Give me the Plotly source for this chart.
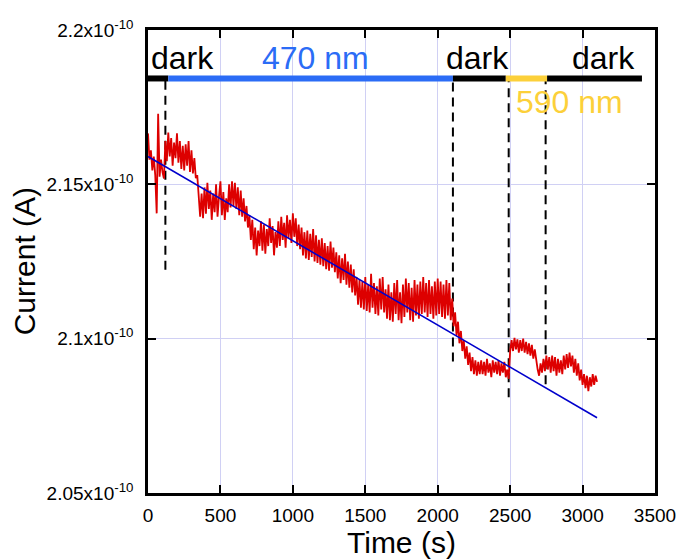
import plotly.graph_objects as go

# ---------------- data ----------------
# time axis, seconds (sampled every 10 s)
time_s = list(range(0, 3110, 10))

# measured current, in units of 1e-10 A
current_e10 = [
    2.1665, 2.1580, 2.1610, 2.1545, 2.1590, 2.1530, 2.1406, 2.1729, 2.1525, 2.1580,
    2.1540, 2.1519, 2.1640, 2.1575, 2.1668, 2.1590, 2.1650, 2.1560, 2.1635, 2.1585,
    2.1665, 2.1570, 2.1640, 2.1550, 2.1625, 2.1545, 2.1630, 2.1560, 2.1640, 2.1540,
    2.1610, 2.1535, 2.1585, 2.1520, 2.1530, 2.1460, 2.1395, 2.1470, 2.1390, 2.1490,
    2.1405, 2.1505, 2.1420, 2.1480, 2.1385, 2.1470, 2.1410, 2.1500, 2.1395, 2.1460,
    2.1510, 2.1400, 2.1475, 2.1385, 2.1455, 2.1410, 2.1500, 2.1425, 2.1510, 2.1430,
    2.1505, 2.1420, 2.1490, 2.1400, 2.1480, 2.1395, 2.1455, 2.1380, 2.1430, 2.1360,
    2.1400, 2.1320, 2.1385, 2.1290, 2.1360, 2.1270, 2.1350, 2.1300, 2.1380, 2.1285,
    2.1370, 2.1275, 2.1355, 2.1300, 2.1390, 2.1310, 2.1365, 2.1270, 2.1345, 2.1295,
    2.1380, 2.1300, 2.1395, 2.1320, 2.1375, 2.1295, 2.1400, 2.1325, 2.1385, 2.1310,
    2.1406, 2.1330, 2.1390, 2.1300, 2.1370, 2.1290, 2.1360, 2.1270, 2.1345, 2.1260,
    2.1350, 2.1255, 2.1340, 2.1265, 2.1355, 2.1250, 2.1335, 2.1245, 2.1320, 2.1240,
    2.1325, 2.1235, 2.1310, 2.1225, 2.1300, 2.1220, 2.1315, 2.1230, 2.1295, 2.1215,
    2.1280, 2.1195, 2.1270, 2.1180, 2.1260, 2.1190, 2.1275, 2.1175, 2.1250, 2.1165,
    2.1240, 2.1150, 2.1225, 2.1140, 2.1200, 2.1110, 2.1190, 2.1100, 2.1185, 2.1095,
    2.1200, 2.1090, 2.1175, 2.1085, 2.1210, 2.1100, 2.1180, 2.1080, 2.1170, 2.1075,
    2.1195, 2.1095, 2.1200, 2.1085, 2.1160, 2.1065, 2.1175, 2.1060, 2.1150, 2.1055,
    2.1180, 2.1080, 2.1190, 2.1060, 2.1150, 2.1050, 2.1175, 2.1070, 2.1195, 2.1085,
    2.1180, 2.1060, 2.1165, 2.1055, 2.1190, 2.1075, 2.1175, 2.1065, 2.1185, 2.1080,
    2.1200, 2.1085, 2.1180, 2.1070, 2.1190, 2.1080, 2.1170, 2.1065, 2.1185, 2.1075,
    2.1195, 2.1080, 2.1185, 2.1070, 2.1175, 2.1065, 2.1190, 2.1075, 2.1180, 2.1060,
    2.1130, 2.1040, 2.1085, 2.1010, 2.1055, 2.0985, 2.1025, 2.0960, 2.0995, 2.0935,
    2.0975, 2.0915, 2.0955, 2.0895, 2.0940, 2.0885, 2.0930, 2.0880, 2.0925, 2.0885,
    2.0930, 2.0885, 2.0925, 2.0880, 2.0935, 2.0890, 2.0920, 2.0875, 2.0930, 2.0890,
    2.0925, 2.0885, 2.0930, 2.0880, 2.0920, 2.0890, 2.0925, 2.0875, 2.0900, 2.0870,
    2.0960, 2.0995, 2.0960, 2.1003, 2.0965, 2.0998, 2.0955, 2.0995, 2.0960, 2.1000,
    2.0955, 2.0990, 2.0950, 2.0985, 2.0945, 2.0980, 2.0935, 2.0965, 2.0925, 2.0900,
    2.0880, 2.0920, 2.0890, 2.0935, 2.0895, 2.0945, 2.0900, 2.0940, 2.0890, 2.0945,
    2.0895, 2.0940, 2.0880, 2.0935, 2.0890, 2.0930, 2.0885, 2.0945, 2.0900, 2.0950,
    2.0905, 2.0955, 2.0910, 2.0945, 2.0890, 2.0935, 2.0880, 2.0920, 2.0865, 2.0900,
    2.0850, 2.0885, 2.0840, 2.0880, 2.0830, 2.0875, 2.0845, 2.0885, 2.0850, 2.0880,
    2.0860,
]

# linear fit (end points), units of 1e-10 A
fit_time_s = [0, 3100]
fit_current_e10 = [2.1590, 2.0744]

# illumination segments: start (s), end (s), label
seg_start = [0, 140, 2105, 2470, 2755]
seg_end = [140, 2105, 2470, 2755, 3410]
seg_label = ["dark", "470 nm", "dark", "590 nm", "dark"]

# switching times (dashed markers), seconds, and lower end of each marker
switch_s = [120, 2105, 2490, 2745]
switch_low_e10 = [2.1223, 2.0926, 2.0810, 2.0852]

# axis ticks
x_ticks = [0, 500, 1000, 1500, 2000, 2500, 3000, 3500]
y_ticks = [2.05, 2.10, 2.15, 2.20]
y_tick_text = ["2.05x10<sup>-10</sup>", "2.1x10<sup>-10</sup>",
               "2.15x10<sup>-10</sup>", "2.2x10<sup>-10</sup>"]

# ---------------- styling ----------------
FONT = "Liberation Sans, Arial, sans-serif"
seg_color = {"dark": "#000000", "470 nm": "#2B6CF6", "590 nm": "#FCD03A"}
BAR_Y = 2.1843
MARK_TOP = 2.1836

fig = go.Figure()

# switching markers
for t, low in zip(switch_s, switch_low_e10):
    fig.add_trace(go.Scatter(x=[t, t], y=[low, MARK_TOP], mode="lines",
                             line=dict(color="black", width=2, dash="9px,6px"),
                             hoverinfo="skip", showlegend=False))

# data
fig.add_trace(go.Scatter(x=time_s, y=current_e10, mode="lines",
                         line=dict(color="#DD0000", width=1.8),
                         showlegend=False))
fig.add_trace(go.Scatter(x=fit_time_s, y=fit_current_e10, mode="lines",
                         line=dict(color="#0000CC", width=1.6),
                         showlegend=False))

# segment bars
for s, e, lab in zip(seg_start, seg_end, seg_label):
    fig.add_trace(go.Scatter(x=[s, e], y=[BAR_Y, BAR_Y], mode="lines",
                             line=dict(color=seg_color[lab], width=6),
                             hoverinfo="skip", showlegend=False))

# segment labels
label_pos = [(235, 2.1908), (1153, 2.1908), (2278, 2.1908), (2913, 2.1766), (3141, 2.1908)]
for (lx, ly), lab in zip(label_pos, seg_label):
    fig.add_annotation(x=lx, y=ly, text=lab, showarrow=False,
                       xanchor="center", yanchor="middle",
                       font=dict(family=FONT, size=32, color=seg_color[lab]))

# axis titles
fig.add_annotation(xref="paper", yref="paper", x=0.5, y=-0.106, text="Time (s)",
                   showarrow=False, xanchor="center", yanchor="middle",
                   font=dict(family=FONT, size=30, color="black"))
fig.add_annotation(xref="paper", yref="paper", x=-0.243, y=0.5, text="Current (A)",
                   textangle=-90, showarrow=False, xanchor="center", yanchor="middle",
                   font=dict(family=FONT, size=30, color="black"))

axis_common = dict(showline=True, linecolor="black", linewidth=2.5, mirror="ticks",
                   ticks="inside", ticklen=8, tickwidth=2, tickcolor="black",
                   showgrid=True, gridcolor="#D0D0F4", gridwidth=1, zeroline=False,
                   automargin=False,
                   tickfont=dict(family=FONT, size=19, color="black"))

fig.update_xaxes(range=[0, 3500], tickvals=x_ticks, ticklabelstandoff=3, **axis_common)
fig.update_yaxes(range=[2.05, 2.2], tickvals=y_ticks, ticktext=y_tick_text,
                 ticklabelstandoff=8, **axis_common)

fig.update_layout(width=677, height=560, margin=dict(l=148, r=22, t=30, b=67),
                  plot_bgcolor="white", paper_bgcolor="white",
                  font=dict(family=FONT), showlegend=False)

fig.write_html("out.html", config={"displayModeBar": False},
               post_script="document.body.style.margin='0px';document.body.style.overflow='hidden';")
